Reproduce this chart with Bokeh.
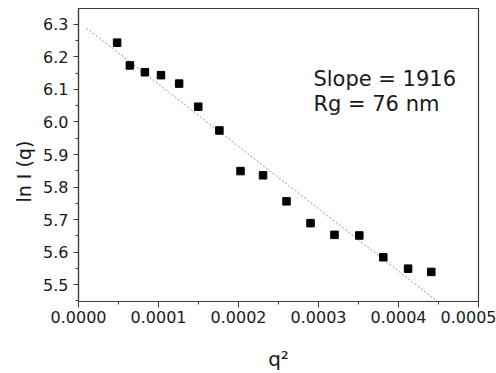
import numpy as np
from bokeh.plotting import figure
from bokeh.models import Range1d, FixedTicker, PrintfTickFormatter, Label, ColumnDataSource, Title
from bokeh.embed import file_html
from bokeh.resources import INLINE

# data
q2 = [0.0000483, 0.0000642, 0.0000830, 0.0001031, 0.0001258, 0.0001497, 0.0001761, 0.0002025,
      0.0002307, 0.0002600, 0.0002900, 0.0003200, 0.0003510, 0.0003810, 0.0004120, 0.0004410]
lnI = [6.244, 6.174, 6.153, 6.144, 6.118, 6.047, 5.974, 5.849,
       5.836, 5.756, 5.689, 5.653, 5.651, 5.584, 5.549, 5.539]
fit_slope = -1916.0
fit_intercept = 6.308
fit_x = [0.00001, 0.00046]
x_ticks = [0.0, 0.0001, 0.0002, 0.0003, 0.0004, 0.0005]
x_minor = [0.00005, 0.00015, 0.00025, 0.00035, 0.00045]
y_ticks = [5.5, 5.6, 5.7, 5.8, 5.9, 6.0, 6.1, 6.2, 6.3]
y_minor = [5.45, 5.55, 5.65, 5.75, 5.85, 5.95, 6.05, 6.15, 6.25]
annot = ["Slope = 1916", "Rg = 76 nm"]
x_title = "q\u00b2"
y_title = "ln I (q)"

FONT = "DejaVu Sans"
AX = "#3a3a3a"
TXT = "#1a1a1a"

p = figure(width=496, height=373, output_backend="svg", toolbar_location=None,
           x_range=Range1d(0.0, 0.0005), y_range=Range1d(5.448, 6.349),
           min_border_left=78, min_border_right=18, min_border_top=8, min_border_bottom=72)
p.background_fill_color = "white"
p.border_fill_color = "white"
p.grid.visible = False
p.outline_line_color = AX
p.outline_line_width = 1.2

for ax in (p.xaxis[0], p.yaxis[0]):
    ax.axis_line_color = AX
    ax.axis_line_width = 1.2
    ax.major_tick_line_color = AX
    ax.minor_tick_line_color = AX
    ax.major_tick_in = 0
    ax.minor_tick_in = 0
    ax.major_label_text_font = FONT
    ax.major_label_text_font_size = "16px"
    ax.major_label_text_color = TXT

p.xaxis.ticker = FixedTicker(ticks=x_ticks, minor_ticks=x_minor)
p.yaxis.ticker = FixedTicker(ticks=y_ticks, minor_ticks=y_minor)
p.xaxis.formatter = PrintfTickFormatter(format="%.4f")
p.yaxis.formatter = PrintfTickFormatter(format="%.1f")
p.xaxis.major_tick_out = 6
p.xaxis.minor_tick_out = 3
p.yaxis.major_tick_out = 5
p.yaxis.minor_tick_out = 3
p.xaxis.major_label_standoff = 3
p.yaxis.major_label_standoff = 5

p.xaxis.axis_label = x_title
p.xaxis.axis_label_text_font = FONT
p.xaxis.axis_label_text_font_size = "20px"
p.xaxis.axis_label_text_font_style = "normal"
p.xaxis.axis_label_text_color = TXT
p.xaxis.axis_label_standoff = 21

p.add_layout(Title(text=y_title, align="left", offset=99, standoff=11,
                   text_font=FONT, text_font_size="19px", text_font_style="normal",
                   text_color=TXT), "left")

fx = np.array(fit_x)
fy = fit_intercept + fit_slope * fx
p.line(fx, fy, line_color="#d66a6a", line_width=1, line_dash="2 2", line_alpha=0.9)

src = ColumnDataSource(dict(x=q2, y=lnI))
p.scatter("x", "y", source=src, marker="square", size=7.5, fill_color="black", line_color="black")

p.add_layout(Label(x=0.0002936, y=6.1308, text=annot[0], text_font=FONT, text_font_size="21px",
                   text_color=TXT, text_align="left", text_baseline="alphabetic"))
p.add_layout(Label(x=0.0002936, y=6.0538, text=annot[1], text_font=FONT, text_font_size="21px",
                   text_color=TXT, text_align="left", text_baseline="alphabetic"))

open("out.html", "w").write(file_html(p, INLINE))
